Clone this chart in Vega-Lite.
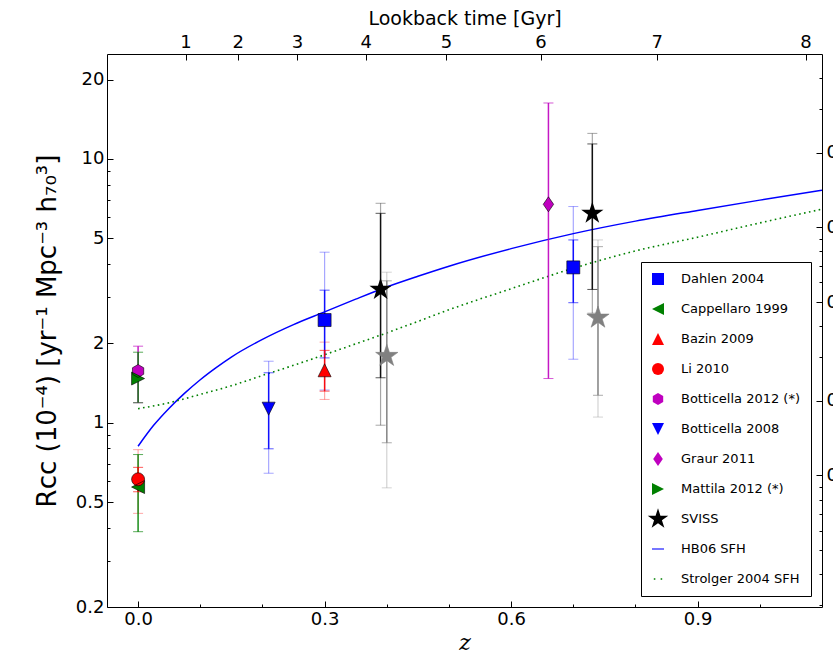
{
  "$schema": "https://vega.github.io/schema/vega-lite/v6.json",
  "width": 715,
  "height": 553,
  "autosize": {"type": "none"},
  "padding": {"left": 107, "top": 54, "right": 11, "bottom": 48},
  "background": "white",
  "datasets": {
    "hb06": [
      {"z": 0, "r": 0.814}, {"z": 0.025, "r": 0.977}, {"z": 0.05, "r": 1.135}, {"z": 0.075, "r": 1.294},
      {"z": 0.1, "r": 1.455}, {"z": 0.125, "r": 1.614}, {"z": 0.15, "r": 1.774}, {"z": 0.2, "r": 2.07},
      {"z": 0.25, "r": 2.355}, {"z": 0.3, "r": 2.63}, {"z": 0.35, "r": 2.94}, {"z": 0.4, "r": 3.27},
      {"z": 0.45, "r": 3.59}, {"z": 0.5, "r": 3.92}, {"z": 0.6, "r": 4.57}, {"z": 0.7, "r": 5.21},
      {"z": 0.8, "r": 5.81}, {"z": 0.9, "r": 6.38}, {"z": 1.0, "r": 6.98}, {"z": 1.1, "r": 7.61}
    ],
    "strolger": [
      {"z": 0, "r": 1.13}, {"z": 0.05, "r": 1.19}, {"z": 0.1, "r": 1.28}, {"z": 0.15, "r": 1.38},
      {"z": 0.2, "r": 1.51}, {"z": 0.25, "r": 1.65}, {"z": 0.3, "r": 1.81}, {"z": 0.35, "r": 1.99},
      {"z": 0.4, "r": 2.19}, {"z": 0.45, "r": 2.42}, {"z": 0.5, "r": 2.68}, {"z": 0.6, "r": 3.22},
      {"z": 0.7, "r": 3.85}, {"z": 0.8, "r": 4.48}, {"z": 0.9, "r": 5.05}, {"z": 1.0, "r": 5.72},
      {"z": 1.1, "r": 6.45}
    ],
    "errs": [
      {"src": "Dahlen 2004", "z": 0.3, "lo": 1.76, "hi": 3.18, "lo2": 1.33, "hi2": 4.43},
      {"src": "Dahlen 2004", "z": 0.7, "lo": 2.85, "hi": 4.93, "lo2": 1.74, "hi2": 6.6},
      {"src": "Cappellaro 1999", "z": 0.0, "lo": 0.386, "hi": 0.757},
      {"src": "Bazin 2009", "z": 0.3, "lo": 1.317, "hi": 1.88, "lo2": 1.225, "hi2": 2.02},
      {"src": "Li 2010", "z": 0.0, "lo": 0.547, "hi": 0.677, "lo2": 0.453, "hi2": 0.79},
      {"src": "Botticella 2012 (*)", "z": 0.0, "lo": 1.19, "hi": 1.95},
      {"src": "Botticella 2008", "z": 0.21, "lo": 0.796, "hi": 1.546, "lo2": 0.643, "hi2": 1.71},
      {"src": "Graur 2011", "z": 0.66, "lo": 1.47, "hi": 16.3},
      {"src": "Mattila 2012 (*)", "z": 0.0, "lo": 1.19, "hi": 1.85},
      {"src": "SVISS", "z": 0.39, "lo": 1.48, "hi": 6.22, "lo2": 0.978, "hi2": 6.79},
      {"src": "SVISS", "z": 0.7306, "lo": 3.2, "hi": 11.4, "lo2": 2.6, "hi2": 12.5},
      {"src": "SVISS (grey)", "z": 0.4, "lo": 0.839, "hi": 3.45, "lo2": 0.566, "hi2": 3.72},
      {"src": "SVISS (grey)", "z": 0.7397, "lo": 1.27, "hi": 4.65, "lo2": 1.05, "hi2": 4.93}
    ],
    "points": [
      {"src": "Dahlen 2004", "z": 0.3, "r": 2.45},
      {"src": "Dahlen 2004", "z": 0.7, "r": 3.88},
      {"src": "Cappellaro 1999", "z": 0.0, "r": 0.57},
      {"src": "Bazin 2009", "z": 0.3, "r": 1.58},
      {"src": "Li 2010", "z": 0.0, "r": 0.61},
      {"src": "Botticella 2012 (*)", "z": 0.0, "r": 1.57},
      {"src": "Botticella 2008", "z": 0.21, "r": 1.13},
      {"src": "Graur 2011", "z": 0.66, "r": 6.73},
      {"src": "Mattila 2012 (*)", "z": 0.0, "r": 1.47},
      {"src": "SVISS", "z": 0.39, "r": 3.2},
      {"src": "SVISS", "z": 0.7306, "r": 6.22}
    ],
    "grey": [
      {"z": 0.4, "r": 1.79},
      {"z": 0.7397, "r": 2.5}
    ]
  },
  "resolve": {"scale": {"y": "independent", "stroke": "independent"}, "axis": {"x": "independent", "y": "independent"}},
  "layer": [
    {
      "data": {"name": "hb06"},
      "mark": {"type": "line", "color": "#0000ff", "strokeWidth": 1.5, "interpolate": "monotone", "clip": true},
      "encoding": {
        "x": {"field": "z", "type": "quantitative", "scale": {"domain": [-0.05, 1.1], "nice": false, "zero": false},
          "axis": {"orient": "bottom", "values": [0, 0.3, 0.6, 0.9], "format": ".1f", "tickSize": -6, "labelPadding": 9,
            "title": "z", "titleFont": "DejaVu Serif", "titleFontStyle": "italic", "titleFontSize": 22, "titlePadding": 4}},
        "y": {"field": "r", "type": "quantitative", "scale": {"type": "log", "domain": [0.2, 25], "nice": false},
          "axis": {"orient": "left", "values": [0.2, 0.5, 1, 2, 5, 10, 20], "format": "~g", "tickSize": -6, "labelPadding": 9,
            "title": "Rᴄᴄ (10⁻⁴) [yr⁻¹ Mpc⁻³ h₇₀³]", "titleFontSize": 26, "titlePadding": 15}}
      }
    },
    {
      "data": {"name": "strolger"},
      "mark": {"type": "line", "color": "#008000", "strokeWidth": 1.6, "strokeDash": [1.6, 3.4], "strokeCap": "butt", "interpolate": "monotone", "clip": true},
      "encoding": {
        "x": {"field": "z", "type": "quantitative", "scale": {"domain": [-0.05, 1.1], "nice": false, "zero": false},
          "axis": {"orient": "bottom", "values": [0.1, 0.2, 0.4, 0.5, 0.7, 0.8, 1.0], "tickSize": -3, "labels": false, "domain": false, "title": null}},
        "y": {"field": "r", "type": "quantitative", "scale": {"type": "log", "domain": [0.2, 25], "nice": false},
          "axis": {"orient": "left", "values": [0.3, 0.4, 0.6, 0.7, 0.8, 0.9, 3, 4, 6, 7, 8, 9], "tickSize": -3, "labels": false, "domain": false, "title": null}}
      }
    },
    {
      "data": {"name": "errs"},
      "transform": [{"filter": "isValid(datum.lo2)"}],
      "mark": {"type": "rule", "strokeWidth": 1.2, "opacity": 0.35},
      "encoding": {
        "x": {"field": "z", "type": "quantitative", "scale": {"domain": [-0.05, 1.1], "nice": false, "zero": false},
          "axis": {"orient": "top", "values": [0.0763, 0.1601, 0.2555, 0.3662, 0.495, 0.6473, 0.8341, 1.0736],
            "labelExpr": "datum.value < 0.1 ? '1' : datum.value < 0.2 ? '2' : datum.value < 0.3 ? '3' : datum.value < 0.4 ? '4' : datum.value < 0.55 ? '5' : datum.value < 0.7 ? '6' : datum.value < 0.9 ? '7' : '8'",
            "tickSize": -6, "labelPadding": 9, "title": "Lookback time [Gyr]", "titleFontSize": 19, "titlePadding": 5}},
        "y": {"field": "lo2", "type": "quantitative", "scale": {"type": "log", "domain": [0.2, 25], "nice": false}, "axis": null},
        "y2": {"field": "hi2"},
        "stroke": {"field": "src", "type": "nominal", "legend": null,
          "scale": {"domain": ["Dahlen 2004", "Cappellaro 1999", "Bazin 2009", "Li 2010", "Botticella 2012 (*)", "Botticella 2008", "Graur 2011", "Mattila 2012 (*)", "SVISS", "SVISS (grey)"],
            "range": ["#0000ff", "#008000", "#ff0000", "#ff0000", "#bf00bf", "#0000ff", "#bf00bf", "#008000", "#000000", "#808080"]}}
      }
    },
    {
      "data": {"name": "errs"},
      "transform": [{"filter": "isValid(datum.lo2)"}],
      "mark": {"type": "rule", "strokeWidth": 1, "opacity": 0.35, "xOffset": -5, "x2Offset": 5},
      "encoding": {
        "x": {"field": "z", "type": "quantitative", "scale": {"domain": [-0.05, 1.1], "nice": false, "zero": false}, "axis": null},
        "x2": {"field": "z"},
        "y": {"field": "lo2", "type": "quantitative", "scale": {"type": "log", "domain": [0.2, 25], "nice": false}, "axis": null},
        "stroke": {"field": "src", "type": "nominal", "legend": null,
          "scale": {"domain": ["Dahlen 2004", "Cappellaro 1999", "Bazin 2009", "Li 2010", "Botticella 2012 (*)", "Botticella 2008", "Graur 2011", "Mattila 2012 (*)", "SVISS", "SVISS (grey)"],
            "range": ["#0000ff", "#008000", "#ff0000", "#ff0000", "#bf00bf", "#0000ff", "#bf00bf", "#008000", "#000000", "#808080"]}}
      }
    },
    {
      "data": {"name": "errs"},
      "transform": [{"filter": "isValid(datum.lo2)"}],
      "mark": {"type": "rule", "strokeWidth": 1, "opacity": 0.35, "xOffset": -5, "x2Offset": 5},
      "encoding": {
        "x": {"field": "z", "type": "quantitative", "scale": {"domain": [-0.05, 1.1], "nice": false, "zero": false}, "axis": null},
        "x2": {"field": "z"},
        "y": {"field": "hi2", "type": "quantitative", "scale": {"type": "log", "domain": [0.2, 25], "nice": false}, "axis": null},
        "stroke": {"field": "src", "type": "nominal", "legend": null,
          "scale": {"domain": ["Dahlen 2004", "Cappellaro 1999", "Bazin 2009", "Li 2010", "Botticella 2012 (*)", "Botticella 2008", "Graur 2011", "Mattila 2012 (*)", "SVISS", "SVISS (grey)"],
            "range": ["#0000ff", "#008000", "#ff0000", "#ff0000", "#bf00bf", "#0000ff", "#bf00bf", "#008000", "#000000", "#808080"]}}
      }
    },
    {
      "data": {"name": "errs"},
      "mark": {"type": "rule", "strokeWidth": 1.5, "opacity": 0.9},
      "encoding": {
        "x": {"field": "z", "type": "quantitative", "scale": {"domain": [-0.05, 1.1], "nice": false, "zero": false}, "axis": null},
        "y": {"field": "lo", "type": "quantitative", "scale": {"type": "log", "domain": [0.2, 25], "nice": false}, "axis": null},
        "y2": {"field": "hi"},
        "stroke": {"field": "src", "type": "nominal", "legend": null,
          "scale": {"domain": ["Dahlen 2004", "Cappellaro 1999", "Bazin 2009", "Li 2010", "Botticella 2012 (*)", "Botticella 2008", "Graur 2011", "Mattila 2012 (*)", "SVISS", "SVISS (grey)"],
            "range": ["#0000ff", "#008000", "#ff0000", "#ff0000", "#bf00bf", "#0000ff", "#bf00bf", "#008000", "#000000", "#808080"]}}
      }
    },
    {
      "data": {"name": "errs"},
      "mark": {"type": "rule", "strokeWidth": 1, "opacity": 0.65, "xOffset": -5, "x2Offset": 5},
      "encoding": {
        "x": {"field": "z", "type": "quantitative", "scale": {"domain": [-0.05, 1.1], "nice": false, "zero": false}, "axis": null},
        "x2": {"field": "z"},
        "y": {"field": "lo", "type": "quantitative", "scale": {"type": "log", "domain": [0.2, 25], "nice": false}, "axis": null},
        "stroke": {"field": "src", "type": "nominal", "legend": null,
          "scale": {"domain": ["Dahlen 2004", "Cappellaro 1999", "Bazin 2009", "Li 2010", "Botticella 2012 (*)", "Botticella 2008", "Graur 2011", "Mattila 2012 (*)", "SVISS", "SVISS (grey)"],
            "range": ["#0000ff", "#008000", "#ff0000", "#ff0000", "#bf00bf", "#0000ff", "#bf00bf", "#008000", "#000000", "#808080"]}}
      }
    },
    {
      "data": {"name": "errs"},
      "mark": {"type": "rule", "strokeWidth": 1, "opacity": 0.65, "xOffset": -5, "x2Offset": 5},
      "encoding": {
        "x": {"field": "z", "type": "quantitative", "scale": {"domain": [-0.05, 1.1], "nice": false, "zero": false}, "axis": null},
        "x2": {"field": "z"},
        "y": {"field": "hi", "type": "quantitative", "scale": {"type": "log", "domain": [0.2, 25], "nice": false}, "axis": null},
        "stroke": {"field": "src", "type": "nominal", "legend": null,
          "scale": {"domain": ["Dahlen 2004", "Cappellaro 1999", "Bazin 2009", "Li 2010", "Botticella 2012 (*)", "Botticella 2008", "Graur 2011", "Mattila 2012 (*)", "SVISS", "SVISS (grey)"],
            "range": ["#0000ff", "#008000", "#ff0000", "#ff0000", "#bf00bf", "#0000ff", "#bf00bf", "#008000", "#000000", "#808080"]}}
      }
    },
    {
      "data": {"name": "grey"},
      "mark": {"type": "point", "filled": true, "size": 169, "opacity": 1, "color": "#808080", "stroke": "#808080", "strokeWidth": 0.6,
        "shape": "M0,-1.8L0.404,-0.556L1.712,-0.556L0.654,0.212L1.058,1.456L0,0.688L-1.058,1.456L-0.654,0.212L-1.712,-0.556L-0.404,-0.556Z"},
      "encoding": {
        "x": {"field": "z", "type": "quantitative", "scale": {"domain": [-0.05, 1.1], "nice": false, "zero": false}, "axis": null},
        "y": {"field": "r", "type": "quantitative", "scale": {"type": "log", "domain": [0.2, 25], "nice": false}, "axis": null}
      }
    },
    {
      "data": {"name": "points"},
      "mark": {"type": "point", "filled": true, "size": 169, "opacity": 1},
      "encoding": {
        "x": {"field": "z", "type": "quantitative", "scale": {"domain": [-0.05, 1.1], "nice": false, "zero": false}, "axis": null},
        "y": {"field": "r", "type": "quantitative", "scale": {"type": "log", "domain": [0.2, 25], "nice": false}, "axis": null},
        "color": {
          "field": "src",
          "type": "nominal",
          "scale": {
            "domain": ["Dahlen 2004", "Cappellaro 1999", "Bazin 2009", "Li 2010", "Botticella 2012 (*)", "Botticella 2008", "Graur 2011", "Mattila 2012 (*)", "SVISS", "HB06 SFH", "Strolger 2004 SFH"],
            "range": ["#0000ff", "#008000", "#ff0000", "#ff0000", "#bf00bf", "#0000ff", "#bf00bf", "#008000", "#000000", "#4040ff", "#008000"]
          },
          "legend": {"title": null}
        },
        "shape": {
          "field": "src",
          "type": "nominal",
          "scale": {
            "domain": ["Dahlen 2004", "Cappellaro 1999", "Bazin 2009", "Li 2010", "Botticella 2012 (*)", "Botticella 2008", "Graur 2011", "Mattila 2012 (*)", "SVISS", "HB06 SFH", "Strolger 2004 SFH"],
            "range": ["square", "M-1,0L1,-1L1,1Z", "M0,-1L1,1L-1,1Z", "circle", "M0,-1L0.866,-0.5L0.866,0.5L0,1L-0.866,0.5L-0.866,-0.5Z", "M0,1L1,-1L-1,-1Z", "M0,-1.15L0.8,0L0,1.15L-0.8,0Z", "M1,0L-1,-1L-1,1Z",
              "M0,-1.8L0.404,-0.556L1.712,-0.556L0.654,0.212L1.058,1.456L0,0.688L-1.058,1.456L-0.654,0.212L-1.712,-0.556L-0.404,-0.556Z",
              "M-1,-0.12H1V0.12H-1Z", "M-0.7,-0.12H-0.44V0.12H-0.7Z M0.44,-0.12H0.7V0.12H0.44Z"]
          },
          "legend": {"title": null}
        }
      }
    },
    {
      "data": {"name": "points"},
      "transform": [{"filter": "datum.src === 'Dahlen 2004'"}],
      "mark": {"type": "point", "filled": false, "size": 169, "opacity": 1, "stroke": "black", "strokeWidth": 0.6, "shape": "square"},
      "encoding": {
        "x": {"field": "z", "type": "quantitative", "scale": {"domain": [-0.05, 1.1], "nice": false, "zero": false}, "axis": null},
        "y": {"field": "r", "type": "quantitative", "scale": {"type": "log", "domain": [0.2, 25], "nice": false}, "axis": null}
      }
    },
    {
      "data": {"name": "points"},
      "transform": [{"filter": "datum.src === 'Cappellaro 1999'"}],
      "mark": {"type": "point", "filled": false, "size": 169, "opacity": 1, "stroke": "black", "strokeWidth": 0.6, "shape": "M-1,0L1,-1L1,1Z"},
      "encoding": {
        "x": {"field": "z", "type": "quantitative", "scale": {"domain": [-0.05, 1.1], "nice": false, "zero": false}, "axis": null},
        "y": {"field": "r", "type": "quantitative", "scale": {"type": "log", "domain": [0.2, 25], "nice": false}, "axis": null}
      }
    },
    {
      "data": {"name": "points"},
      "transform": [{"filter": "datum.src === 'Bazin 2009'"}],
      "mark": {"type": "point", "filled": false, "size": 169, "opacity": 1, "stroke": "black", "strokeWidth": 0.6, "shape": "M0,-1L1,1L-1,1Z"},
      "encoding": {
        "x": {"field": "z", "type": "quantitative", "scale": {"domain": [-0.05, 1.1], "nice": false, "zero": false}, "axis": null},
        "y": {"field": "r", "type": "quantitative", "scale": {"type": "log", "domain": [0.2, 25], "nice": false}, "axis": null}
      }
    },
    {
      "data": {"name": "points"},
      "transform": [{"filter": "datum.src === 'Li 2010'"}],
      "mark": {"type": "point", "filled": false, "size": 169, "opacity": 1, "stroke": "black", "strokeWidth": 0.6, "shape": "circle"},
      "encoding": {
        "x": {"field": "z", "type": "quantitative", "scale": {"domain": [-0.05, 1.1], "nice": false, "zero": false}, "axis": null},
        "y": {"field": "r", "type": "quantitative", "scale": {"type": "log", "domain": [0.2, 25], "nice": false}, "axis": null}
      }
    },
    {
      "data": {"name": "points"},
      "transform": [{"filter": "datum.src === 'Botticella 2012 (*)'"}],
      "mark": {"type": "point", "filled": false, "size": 169, "opacity": 1, "stroke": "black", "strokeWidth": 0.6, "shape": "M0,-1L0.866,-0.5L0.866,0.5L0,1L-0.866,0.5L-0.866,-0.5Z"},
      "encoding": {
        "x": {"field": "z", "type": "quantitative", "scale": {"domain": [-0.05, 1.1], "nice": false, "zero": false}, "axis": null},
        "y": {"field": "r", "type": "quantitative", "scale": {"type": "log", "domain": [0.2, 25], "nice": false}, "axis": null}
      }
    },
    {
      "data": {"name": "points"},
      "transform": [{"filter": "datum.src === 'Botticella 2008'"}],
      "mark": {"type": "point", "filled": false, "size": 169, "opacity": 1, "stroke": "black", "strokeWidth": 0.6, "shape": "M0,1L1,-1L-1,-1Z"},
      "encoding": {
        "x": {"field": "z", "type": "quantitative", "scale": {"domain": [-0.05, 1.1], "nice": false, "zero": false}, "axis": null},
        "y": {"field": "r", "type": "quantitative", "scale": {"type": "log", "domain": [0.2, 25], "nice": false}, "axis": null}
      }
    },
    {
      "data": {"name": "points"},
      "transform": [{"filter": "datum.src === 'Graur 2011'"}],
      "mark": {"type": "point", "filled": false, "size": 169, "opacity": 1, "stroke": "black", "strokeWidth": 0.6, "shape": "M0,-1.15L0.8,0L0,1.15L-0.8,0Z"},
      "encoding": {
        "x": {"field": "z", "type": "quantitative", "scale": {"domain": [-0.05, 1.1], "nice": false, "zero": false}, "axis": null},
        "y": {"field": "r", "type": "quantitative", "scale": {"type": "log", "domain": [0.2, 25], "nice": false}, "axis": null}
      }
    },
    {
      "data": {"name": "points"},
      "transform": [{"filter": "datum.src === 'Mattila 2012 (*)'"}],
      "mark": {"type": "point", "filled": false, "size": 169, "opacity": 1, "stroke": "black", "strokeWidth": 0.6, "shape": "M1,0L-1,-1L-1,1Z"},
      "encoding": {
        "x": {"field": "z", "type": "quantitative", "scale": {"domain": [-0.05, 1.1], "nice": false, "zero": false}, "axis": null},
        "y": {"field": "r", "type": "quantitative", "scale": {"type": "log", "domain": [0.2, 25], "nice": false}, "axis": null}
      }
    },
    {
      "data": {"values": []},
      "mark": {"type": "rule"},
      "encoding": {
        "y": {"field": "sfr", "type": "quantitative", "scale": {"type": "log", "domain": [0.00295, 0.5], "nice": false},
          "axis": {"orient": "right", "values": [0.01, 0.02, 0.05, 0.1, 0.2], "format": "~g", "tickSize": -6, "labelPadding": 10, "title": null}}
      }
    },
    {
      "data": {"values": []},
      "mark": {"type": "rule"},
      "encoding": {
        "y": {"field": "sfr", "type": "quantitative", "scale": {"type": "log", "domain": [0.00295, 0.5], "nice": false},
          "axis": {"orient": "right", "values": [0.003, 0.004, 0.005, 0.006, 0.007, 0.008, 0.009, 0.03, 0.04, 0.06, 0.07, 0.08, 0.09, 0.3, 0.4], "tickSize": -3, "labels": false, "domain": false, "title": null}}
      }
    }
  ],
  "config": {
    "font": "DejaVu Sans",
    "view": {"stroke": null},
    "axis": {"grid": false, "domainColor": "black", "domainWidth": 1, "tickColor": "black", "tickWidth": 1,
      "labelColor": "black", "labelFont": "DejaVu Sans", "labelFontSize": 18, "labelFlush": false, "labelOverlap": false, "labelBound": false,
      "titleColor": "black", "titleFont": "DejaVu Sans", "titleFontWeight": "normal"},
    "legend": {"orient": "bottom-right", "offset": 11, "symbolSize": 144, "labelFont": "DejaVu Sans", "labelFontSize": 13,
      "labelColor": "black", "strokeColor": "black", "fillColor": "white", "padding": 10, "rowPadding": 10, "gridAlign": "all",
      "labelOffset": 16, "strokeWidth": 1, "cornerRadius": 0}
  }
}
